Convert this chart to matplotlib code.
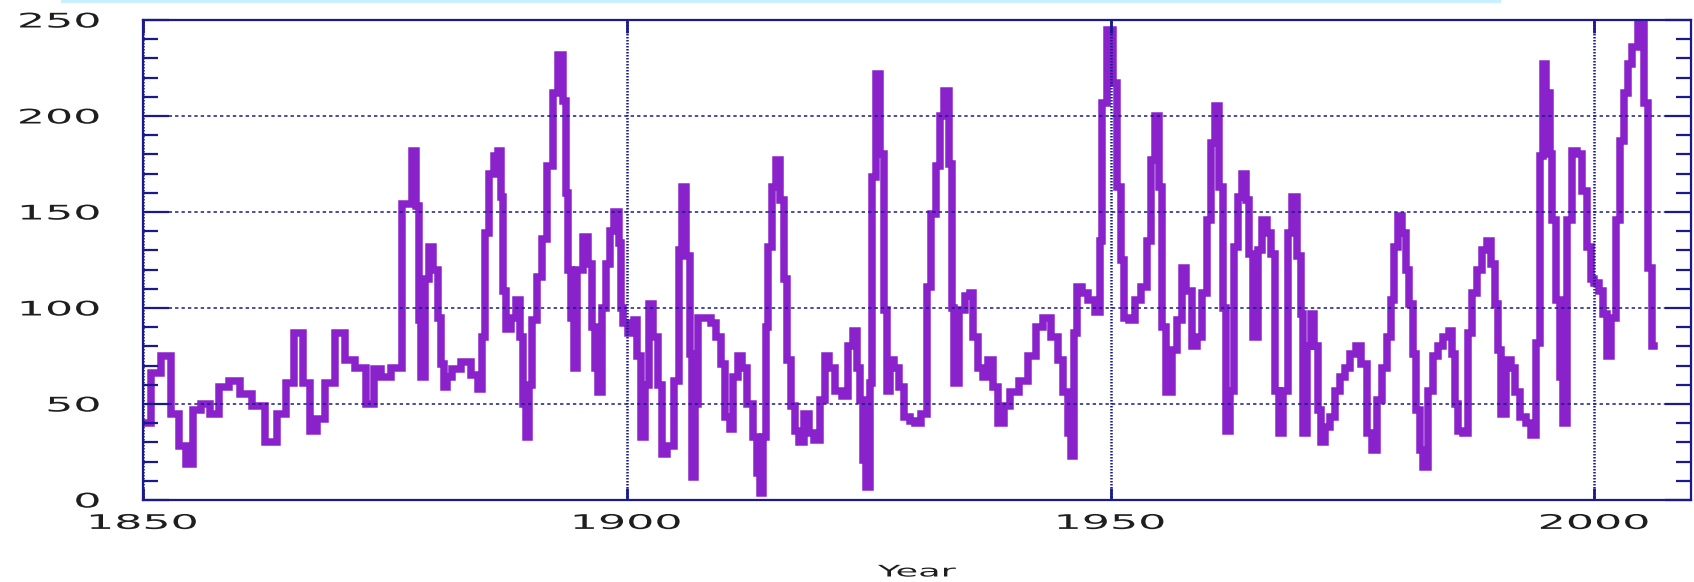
import matplotlib.pyplot as plt
from matplotlib.patches import Rectangle
from matplotlib.patheffects import AbstractPathEffect
from matplotlib.ticker import MultipleLocator
from matplotlib.transforms import Affine2D

# values
year = [1850.3, 1851.3, 1852.4, 1853.4, 1854.0, 1854.8, 1855.6, 1856.4, 1857.5, 1858.3,
        1859.4, 1860.6, 1862.0, 1863.3, 1864.4, 1865.2, 1866.1, 1867.0, 1867.6, 1868.4,
        1869.3, 1870.4, 1871.4, 1872.5, 1873.5, 1874.2, 1875.1, 1876.1, 1877.5, 1878.1,
        1878.4, 1878.6, 1878.9, 1879.3, 1879.8, 1880.2, 1880.7, 1881.0, 1881.2, 1881.6,
        1882.3, 1883.4, 1884.4, 1884.9, 1885.2, 1885.6, 1886.0, 1886.5, 1886.9, 1887.1,
        1887.3, 1887.7, 1888.3, 1888.9, 1889.1, 1889.4, 1889.7, 1890.1, 1890.4, 1891.0,
        1891.5, 1892.1, 1892.6, 1893.2, 1893.6, 1893.8, 1894.1, 1894.4, 1894.6, 1895.2,
        1895.7, 1896.2, 1896.6, 1896.8, 1897.2, 1897.7, 1898.1, 1898.4, 1899.0, 1899.3,
        1899.5, 1899.8, 1900.4, 1901.0, 1901.2, 1901.7, 1902.0, 1902.5, 1903.0, 1903.4,
        1903.8, 1904.5, 1905.2, 1905.5, 1905.9, 1906.4, 1906.65, 1906.9, 1907.2, 1907.6,
        1908.4, 1909.0, 1909.5, 1909.9, 1910.45, 1910.8, 1911.2, 1911.7, 1912.2, 1912.75,
        1913.3, 1913.6, 1913.95, 1914.3, 1914.5, 1914.8, 1915.2, 1915.7, 1916.05, 1916.4,
        1916.7, 1917.2, 1917.6, 1918.1, 1918.6, 1919.1, 1919.65, 1920.2, 1920.7, 1921.2,
        1921.9, 1922.6, 1923.1, 1923.6, 1924.0, 1924.25, 1924.5, 1925.0, 1925.3, 1925.5,
        1925.95, 1926.4, 1926.7, 1927.1, 1927.4, 1927.9, 1928.45, 1928.95, 1929.5, 1930.1,
        1930.8, 1931.2, 1931.75, 1932.1, 1932.6, 1933.05, 1933.5, 1933.75, 1934.0, 1934.6,
        1935.3, 1935.6, 1936.05, 1936.6, 1937.1, 1937.6, 1938.1, 1938.6, 1939.3, 1940.0,
        1941.0, 1941.9, 1942.6, 1943.4, 1944.3, 1944.85, 1945.4, 1945.8, 1946.05, 1946.4,
        1946.75, 1947.4, 1948.05, 1948.75, 1949.0, 1949.3, 1949.95, 1950.5, 1950.9, 1951.2,
        1951.6, 1952.2, 1952.9, 1953.5, 1954.0, 1954.35, 1954.8, 1955.2, 1955.5, 1956.05,
        1956.6, 1957.1, 1957.6, 1958.1, 1958.65, 1959.2, 1959.7, 1960.2, 1960.55, 1961.1,
        1961.4, 1961.8, 1962.1, 1962.6, 1963.0, 1963.4, 1963.8, 1964.2, 1964.5, 1965.0,
        1965.4, 1965.9, 1966.4, 1966.8, 1967.3, 1967.6, 1968.1, 1968.5, 1969.1, 1969.5,
        1969.8, 1970.0, 1970.55, 1970.9, 1971.2, 1971.6, 1971.9, 1972.4, 1972.95, 1973.5,
        1974.0, 1974.5, 1975.0, 1975.65, 1976.2, 1976.8, 1977.3, 1977.8, 1978.3, 1978.8,
        1979.15, 1979.45, 1979.9, 1980.4, 1980.7, 1981.1, 1981.4, 1981.8, 1982.1, 1982.6,
        1983.1, 1983.65, 1984.1, 1984.7, 1985.2, 1985.4, 1985.75, 1986.1, 1986.7, 1987.1,
        1987.6, 1988.2, 1988.6, 1989.2, 1989.5, 1989.9, 1990.1, 1990.6, 1991.1, 1991.6,
        1992.1, 1992.6, 1993.2, 1993.7, 1994.2, 1994.5, 1994.9, 1995.2, 1995.6, 1995.75,
        1996.3, 1996.6, 1996.95, 1997.5, 1998.0, 1998.5, 1999.0, 1999.5, 1999.8, 2000.2,
        2000.7, 2001.1, 2001.5, 2001.95, 2002.5, 2002.8, 2003.3, 2003.7, 2004.2, 2004.8,
        2005.4, 2005.75, 2006.2]
value = [40, 66, 75, 45, 28, 19, 47, 50, 45, 59,
         62, 55, 49, 30, 45, 61, 87, 61, 36, 42,
         61, 87, 73, 69, 50, 68, 64, 69, 154, 182,
         153, 94, 64, 115, 132, 120, 95, 71, 59, 64,
         68, 72, 65, 58, 85, 139, 170, 179, 182, 158,
         109, 89, 95, 104, 85, 50, 33, 60, 94, 116,
         136, 174, 212, 232, 208, 160, 120, 95, 69, 120,
         137, 123, 90, 69, 56, 100, 123, 140, 150, 134,
         100, 92, 87, 94, 75, 33, 60, 102, 85, 60,
         24, 28, 62, 130, 163, 127, 76, 12, 50, 95,
         95, 92, 85, 71, 43, 37, 64, 75, 69, 50,
         33, 14, 3.5, 33, 90, 132, 163, 177, 156, 115,
         73, 49, 36, 30, 45, 35, 31, 52, 75, 69,
         57, 54, 80, 88, 69, 52, 21, 7, 61, 168,
         222, 180, 99, 57, 73, 69, 59, 43, 41, 40,
         45, 111, 149, 174, 200, 213, 175, 100, 61, 99,
         106, 108, 85, 69, 64, 73, 59, 40, 49, 56,
         62, 75, 90, 95, 85, 73, 56, 35, 23, 87,
         111, 108, 104, 98, 135, 207, 245, 217, 163, 125,
         95, 94, 104, 111, 135, 177, 200, 163, 90, 56,
         78, 94, 121, 109, 80, 85, 108, 146, 186, 205,
         163, 100, 36, 57, 132, 158, 170, 156, 128, 85,
         130, 146, 139, 128, 57, 35, 57, 139, 158, 127,
         97, 35, 80, 97, 80, 47, 30, 38, 43, 57,
         64, 69, 76, 80, 71, 35, 26, 52, 69, 85,
         104, 132, 148, 139, 120, 102, 76, 47, 26, 17,
         57, 75, 80, 85, 88, 76, 50, 36, 35, 87,
         108, 120, 130, 135, 123, 102, 78, 45, 73, 69,
         56, 43, 40, 34, 82, 179, 227, 212, 180, 146,
         104, 64, 40, 146, 182, 180, 161, 132, 115, 113,
         109, 97, 75, 95, 146, 187, 212, 227, 236, 248,
         207, 121, 80]

xticks = [1850, 1900, 1950, 2000]
yticks = [0, 50, 100, 150, 200, 250]

navy = '#1a1a8e'
purple = '#8a22cc'
txt = '#1e1e1e'


class Stretch(AbstractPathEffect):
    # the labels in the picture are drawn very wide, so widen the glyphs
    def __init__(self, sx, anchor='center'):
        super().__init__()
        self.sx = sx
        self.anchor = anchor

    def draw_path(self, renderer, gc, tpath, affine, rgbFace=None):
        ext = tpath.get_extents()
        if self.anchor == 'right':
            a = ext.x1
        else:
            a = (ext.x0 + ext.x1) / 2
        t = Affine2D().translate(-a, 0).scale(self.sx, 1).translate(a, 0)
        renderer.draw_path(gc, tpath, t + affine, rgbFace)


fig = plt.figure(figsize=(16.94, 5.82), dpi=100)
ax = fig.add_axes([143 / 1694, 82 / 582, 1548 / 1694, 480 / 582])

ax.step(year, value, where='mid', color=purple, lw=5.4, solid_joinstyle='miter')

ax.set_xlim(1850, 2010)
ax.set_ylim(0, 250)
ax.set_xticks(xticks)
ax.set_yticks(yticks)
ax.yaxis.set_minor_locator(MultipleLocator(10))

ax.set_axisbelow(False)
ax.yaxis.grid(True, color=navy, lw=1.1, linestyle=(0, (2.2, 2.0)))
ax.xaxis.grid(True, color=navy, lw=1.8, linestyle=(0, (0.6, 0.6)))

for s in ax.spines.values():
    s.set_color(navy)
    s.set_linewidth(1.6)

ax.tick_params(axis='y', which='major', direction='in', length=19, width=1.6, color=navy,
               left=True, right=True, pad=31, labelsize=14.5, labelcolor=txt)
ax.tick_params(axis='y', which='minor', direction='in', length=11, width=1.6, color=navy,
               left=True, right=True)
ax.tick_params(axis='x', which='major', direction='in', length=9, width=2, color=navy,
               top=True, bottom=True, pad=10, labelsize=14.5, labelcolor=txt)

for lab in ax.get_yticklabels():
    lab.set_path_effects([Stretch(2.2, 'right')])
for lab in ax.get_xticklabels():
    lab.set_path_effects([Stretch(2.2)])

ax.set_xlabel('Year', fontsize=11.5, color=txt, va='center')
ax.xaxis.set_label_coords(0.5, -72 / 480)
ax.xaxis.label.set_path_effects([Stretch(2.3)])

# thin light band along the top edge of the picture
fig.patches.append(Rectangle((61 / 1694, 1 - 3 / 582), 1440 / 1694, 3 / 582,
                             transform=fig.transFigure, color='#c8f0ff', lw=0))

fig.savefig('out.png', dpi=100)
